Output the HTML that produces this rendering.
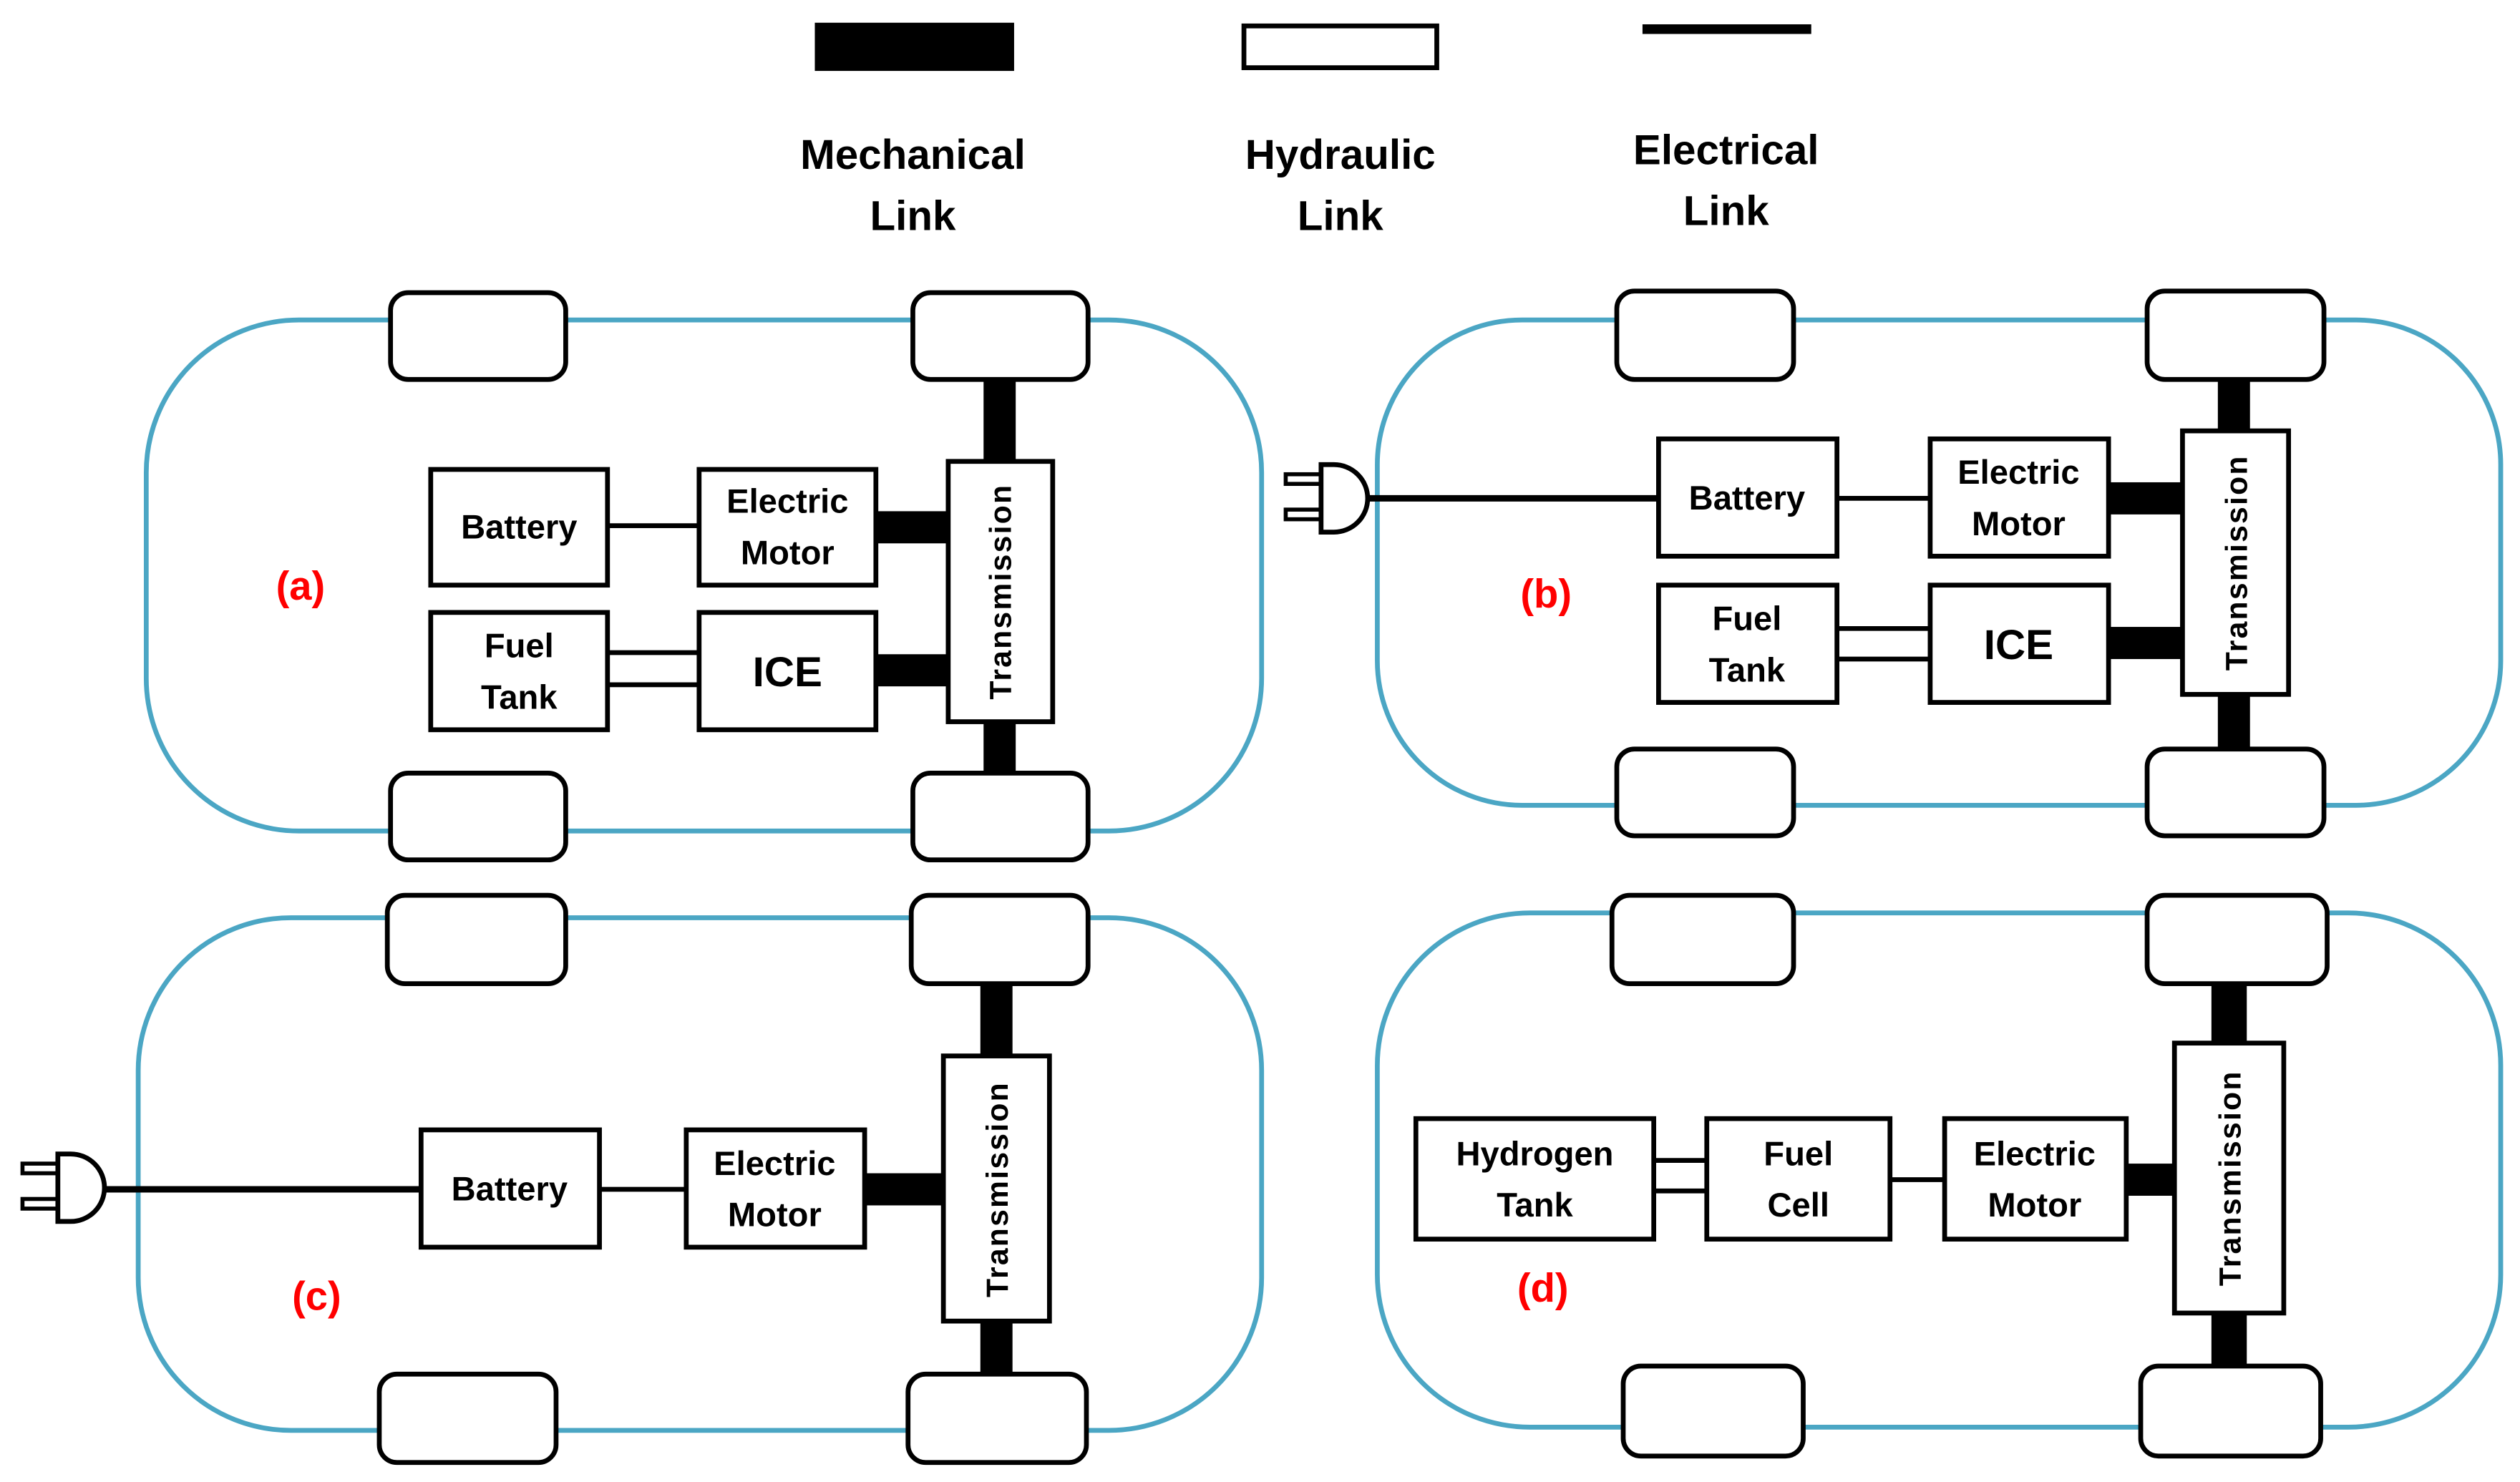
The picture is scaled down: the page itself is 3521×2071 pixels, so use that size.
<!DOCTYPE html>
<html><head><meta charset="utf-8"><style>
html,body{margin:0;padding:0;background:#fff;}
svg{display:block;}
text{font-family:"Liberation Sans",sans-serif;font-weight:bold;}
</style></head><body>
<svg width="3521" height="2071" viewBox="0 0 1568 922" xmlns="http://www.w3.org/2000/svg">
<defs>
<g id="plug">
<rect x="0" y="8" width="22" height="6" fill="#fff" stroke="#000" stroke-width="2.5"/>
<rect x="0" y="30" width="22" height="6" fill="#fff" stroke="#000" stroke-width="2.5"/>
<path d="M22 2 L30 2 A20 20 0 0 1 30 44 L22 44 Z" fill="#fff" stroke="#000" stroke-width="3"/>
</g>
</defs>
<!-- legend -->
<rect x="507" y="14" width="124" height="30" fill="#000"/>
<rect x="774" y="16" width="120" height="26" fill="#fff" stroke="#000" stroke-width="3"/>
<rect x="1022" y="15" width="105" height="6" fill="#000"/>
<g font-size="26" text-anchor="middle">
<text x="568" y="105">Mechanical</text><text x="568" y="143">Link</text>
<text x="834" y="105">Hydraulic</text><text x="834" y="143">Link</text>
<text x="1074" y="102">Electrical</text><text x="1074" y="140">Link</text>
</g>
<g fill="none" stroke="#4ba6c4" stroke-width="3">
<rect x="91" y="199" width="694" height="318" rx="95"/>
<rect x="857" y="199" width="699" height="302" rx="90"/>
<rect x="86" y="571" width="699" height="319" rx="95"/>
<rect x="857" y="568" width="699" height="320" rx="95"/>
</g>
<!-- shafts & mech links -->
<g fill="#000">
<rect x="612" y="236" width="20" height="245"/>
<rect x="545" y="318" width="45" height="20"/><rect x="545" y="407" width="45" height="20"/>
<rect x="1380" y="236" width="20" height="230"/>
<rect x="1312" y="300" width="46" height="20"/><rect x="1312" y="390" width="46" height="20"/>
<rect x="610" y="612" width="20" height="243"/>
<rect x="538" y="730" width="49" height="20"/>
<rect x="1376" y="612" width="22" height="238"/>
<rect x="1323" y="724" width="30" height="20"/>
</g>
<!-- electrical -->
<g stroke="#000" stroke-width="3">
<line x1="378" y1="327" x2="435" y2="327"/>
<line x1="848" y1="310" x2="1032" y2="310" stroke-width="4"/>
<line x1="1143" y1="310" x2="1201" y2="310"/>
<line x1="62" y1="740" x2="262" y2="740" stroke-width="4"/>
<line x1="373" y1="740" x2="427" y2="740"/>
<line x1="1176" y1="734" x2="1210" y2="734"/>
<!-- hydraulic -->
<line x1="378" y1="406" x2="435" y2="406"/><line x1="378" y1="426" x2="435" y2="426"/>
<line x1="1143" y1="391" x2="1201" y2="391"/><line x1="1143" y1="410" x2="1201" y2="410"/>
<line x1="1029" y1="722" x2="1062" y2="722"/><line x1="1029" y1="741" x2="1062" y2="741"/>
</g>
<!-- wheels -->
<g fill="#fff" stroke="#000" stroke-width="3">
<rect x="243" y="182" width="109" height="54" rx="11"/><rect x="568" y="182" width="109" height="54" rx="11"/>
<rect x="243" y="481" width="109" height="54" rx="11"/><rect x="568" y="481" width="109" height="54" rx="11"/>
<rect x="1006" y="181" width="110" height="55" rx="11"/><rect x="1336" y="181" width="110" height="55" rx="11"/>
<rect x="1006" y="466" width="110" height="54" rx="11"/><rect x="1336" y="466" width="110" height="54" rx="11"/>
<rect x="241" y="557" width="111" height="55" rx="11"/><rect x="567" y="557" width="110" height="55" rx="11"/>
<rect x="236" y="855" width="110" height="55" rx="11"/><rect x="565" y="855" width="111" height="55" rx="11"/>
<rect x="1003" y="557" width="113" height="55" rx="11"/><rect x="1336" y="557" width="112" height="55" rx="11"/>
<rect x="1010" y="850" width="112" height="56" rx="11"/><rect x="1332" y="850" width="112" height="56" rx="11"/>
<!-- boxes -->
<rect x="590" y="287" width="65" height="162"/>
<rect x="268" y="292" width="110" height="72"/><rect x="435" y="292" width="110" height="72"/>
<rect x="268" y="381" width="110" height="73"/><rect x="435" y="381" width="110" height="73"/>
<rect x="1358" y="268" width="66" height="164"/>
<rect x="1032" y="273" width="111" height="73"/><rect x="1201" y="273" width="111" height="73"/>
<rect x="1032" y="364" width="111" height="73"/><rect x="1201" y="364" width="111" height="73"/>
<rect x="587" y="657" width="66" height="165"/>
<rect x="262" y="703" width="111" height="73"/><rect x="427" y="703" width="111" height="73"/>
<rect x="1353" y="649" width="68" height="168"/>
<rect x="881" y="696" width="148" height="75"/><rect x="1062" y="696" width="114" height="75"/><rect x="1210" y="696" width="113" height="75"/>
</g>
<use href="#plug" x="800" y="287"/>
<use href="#plug" x="14" y="716"/>
<!-- labels -->
<g font-size="21" text-anchor="middle">
<text x="323" y="335">Battery</text>
<text x="490" y="319">Electric</text><text x="490" y="351">Motor</text>
<text x="323" y="409">Fuel</text><text x="323" y="441">Tank</text>
<text x="490" y="427" font-size="26">ICE</text>
<text x="1087" y="317">Battery</text>
<text x="1256" y="301">Electric</text><text x="1256" y="333">Motor</text>
<text x="1087" y="392">Fuel</text><text x="1087" y="424">Tank</text>
<text x="1256" y="410" font-size="26">ICE</text>
<text x="317" y="747">Battery</text>
<text x="482" y="731">Electric</text><text x="482" y="763">Motor</text>
<text x="955" y="725">Hydrogen</text><text x="955" y="757">Tank</text>
<text x="1119" y="725">Fuel</text><text x="1119" y="757">Cell</text>
<text x="1266" y="725">Electric</text><text x="1266" y="757">Motor</text>
</g>
<g font-size="19" text-anchor="middle" letter-spacing="1">
<text transform="translate(629,368) rotate(-90)">Transmission</text>
<text transform="translate(1398,350) rotate(-90)">Transmission</text>
<text transform="translate(627,740) rotate(-90)">Transmission</text>
<text transform="translate(1394,733) rotate(-90)">Transmission</text>
</g>
<g font-size="25" fill="#f00" text-anchor="middle">
<text x="187" y="373">(a)</text>
<text x="962" y="378">(b)</text>
<text x="197" y="815">(c)</text>
<text x="960" y="810">(d)</text>
</g>
</svg>
</body></html>
